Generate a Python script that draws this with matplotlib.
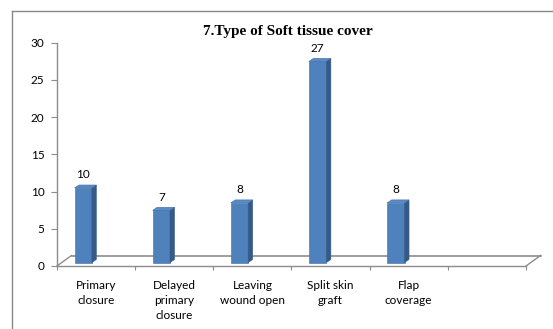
import matplotlib
matplotlib.use('Agg')
from matplotlib import pyplot as plt
from matplotlib.patches import Polygon
from matplotlib.lines import Line2D
from matplotlib.transforms import offset_copy

# data
categories = ['Primary\nclosure', 'Delayed\nprimary\nclosure', 'Leaving\nwound open',
              'Split skin\ngraft', 'Flap\ncoverage', '']
values = [10, 7, 8, 27, 8]
title = '7.Type of Soft tissue cover'

front_col = '#4F81BD'
side_col = '#355A88'
top_col = '#5B8BC6'
axis_col = '#8C8C8C'

plt.rcParams['font.family'] = ['Lato', 'DejaVu Sans']

fig = plt.figure(figsize=(5.53, 3.29), dpi=100)
W, H = 553, 329
ax = fig.add_axes([57 / W, (H - 266) / H, (526 - 57) / W, (266 - 42.5) / H])
ax.set_xlim(-0.5, len(categories) - 0.5)
ax.set_ylim(0, 30)
ax.patch.set_visible(False)

for s in ['top', 'right']:
    ax.spines[s].set_visible(False)
for s in ['left', 'bottom']:
    ax.spines[s].set_color(axis_col)
    ax.spines[s].set_linewidth(1.0)

ax.set_yticks(range(0, 31, 5))
ax.tick_params(axis='y', length=4, width=0.8, color=axis_col, pad=5,
               labelsize=8.5, labelcolor='black')
ax.set_xticks([i + 0.5 for i in range(-1, len(categories))], minor=True)
ax.set_xticks(range(len(categories)))
ax.set_xticklabels(categories, linespacing=1.45)
ax.tick_params(axis='x', which='major', length=0, pad=10, labelsize=8.5)
ax.tick_params(axis='x', which='minor', length=3, width=0.8, color=axis_col)

# floor of the 3d look
dx, dy = 14.5, 10.5
back = offset_copy(ax.transData, fig=fig, x=dx, y=dy, units='dots')
ax.plot([-0.5, len(categories) - 0.5], [0, 0], color=axis_col, lw=1.2,
        transform=back, clip_on=False)
for xe in [-0.5, len(categories) - 0.5]:
    px, py = ax.transData.transform((xe, 0))
    fig.add_artist(Line2D([px, px + dx], [py, py + dy], color=axis_col,
                          lw=1.0, transform=None))

# bars
xs = [i - 0.165 for i in range(len(values))]
bar_tr = offset_copy(ax.transData, fig=fig, x=0, y=3.5, units='dots')
bars = ax.bar(xs, values, width=0.222, color=front_col, edgecolor='#3F6DA3',
              linewidth=0.4, transform=bar_tr, zorder=3, clip_on=False)

bx, by = 4.5, 3.0
for xc, v in zip(xs, values):
    x0, y0 = bar_tr.transform((xc - 0.111, 0))
    x1, y1 = bar_tr.transform((xc + 0.111, v))
    side = Polygon([(x1, y0), (x1 + bx, y0 + by), (x1 + bx, y1 + by), (x1, y1)],
                   closed=True, facecolor=side_col, edgecolor=side_col,
                   linewidth=0.4, transform=None, zorder=3)
    top = Polygon([(x0, y1), (x0 + bx, y1 + by), (x1 + bx, y1 + by), (x1, y1)],
                  closed=True, facecolor=top_col, edgecolor='#3F6DA3',
                  linewidth=0.4, transform=None, zorder=3)
    fig.add_artist(side)
    fig.add_artist(top)
    ax.annotate(str(v), (xc, v), xytext=(0, 13), textcoords='offset pixels',
                ha='center', va='center', fontsize=8.5,
                xycoords=bar_tr, annotation_clip=False)

fig.text(288 / W, 1 - 32 / H, title, ha='center', va='center', fontsize=11,
         fontweight='bold', family=['Liberation Serif', 'DejaVu Serif'])

# outer frame
fig.add_artist(Line2D([12 / W, 1], [1 - 11 / H, 1 - 11 / H], color='#888888',
                      lw=1.0, transform=fig.transFigure))
fig.add_artist(Line2D([12 / W, 12 / W], [0, 1 - 11 / H], color='#888888',
                      lw=1.0, transform=fig.transFigure))

fig.savefig('out.png', dpi=100)
